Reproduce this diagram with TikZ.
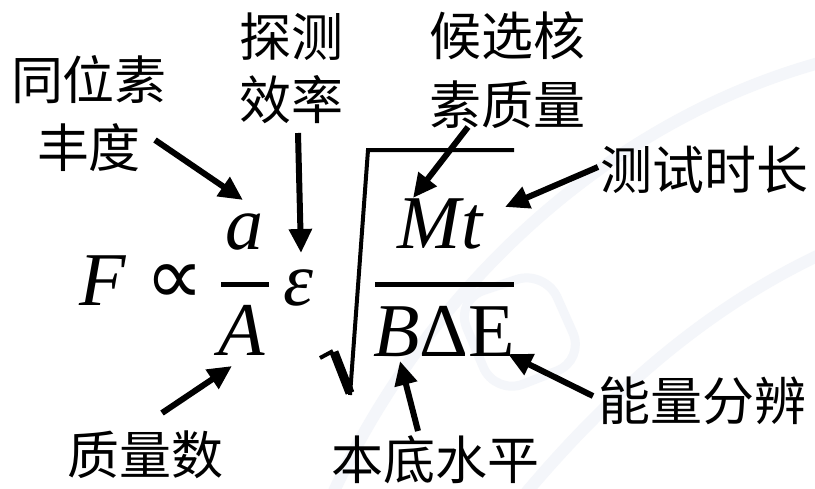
\documentclass[tikz,border=0pt]{standalone}
\usepackage{fontspec}
\newfontfamily\cjk{Noto Sans CJK SC}
\newfontfamily\mf{Liberation Serif}
\newfontfamily\dv{DejaVu Sans}
\usetikzlibrary{arrows.meta}
\definecolor{wm}{RGB}{244,246,250}
\begin{document}
\begin{tikzpicture}[x=1pt,y=-1pt,
  lbl/.style={font=\cjk\fontsize{52}{60}\selectfont, inner sep=0pt, anchor=base},
  sym/.style={font=\mf\itshape\fontsize{76}{80}\selectfont, inner sep=0pt, anchor=base},
  arr/.style={line width=6pt, -{Triangle[length=24pt,width=22pt]}},
  bar/.style={line width=5pt},
  wmline/.style={line width=12pt, wm, line cap=round}]
\useasboundingbox (0,0) rectangle (815,488);
\fill[white] (0,0) rectangle (815,488);
% faint watermark
\draw[wmline] (330,500) .. controls (420,300) and (600,120) .. (830,60);
\draw[wmline] (520,500) .. controls (620,380) and (720,300) .. (830,250);
\draw[wm, line width=9pt, rounded corners=30pt] (455,300) -- (545,270) -- (585,360) -- (495,395) -- cycle;
% labels
\node[lbl] (iso1) at (89,99) {同位素};
\node[lbl] (iso2) at (89,167) {丰度};
\node[lbl] (det1) at (291,56) {探测};
\node[lbl] (det2) at (291,119) {效率};
\node[lbl] (nuc1) at (507,55) {候选核};
\node[lbl] (nuc2) at (507,124) {素质量};
\node[lbl] (time) at (704,189) {测试时长};
\node[lbl] (eres) at (702,420) {能量分辨};
\node[lbl] (mass) at (145,474) {质量数};
\node[lbl] (bkg) at (435,479) {本底水平};
% formula
\node[sym] (F) at (103,305) {F};
\node[inner sep=0pt, font=\dv\fontsize{82}{84}\selectfont] (prop) at (175,285) {∝};
\node[sym] (a) at (244,249) {a};
\node[sym] (A) at (242,355) {A};
\node[sym] (eps) at (298,305) {ε};
\node[sym] (Mt) at (440,248) {Mt};
\node[sym] (BdE) at (444,356) {B{\upshape ΔE}};
\draw[bar] (221,284.5) -- (269,284.5);
\draw[bar] (375,284.5) -- (514,284.5);
\draw[line width=4pt, line join=miter] (320,358) -- (333,351);
\draw[line width=9pt] (334,352) -- (350,393);
\draw[line width=4pt, line join=miter] (350,395) -- (368,150) -- (514,150);
% connectors
\coordinate (t1) at (155,140); \coordinate (h1) at (243,200);
\coordinate (t2) at (298,133); \coordinate (h2) at (301,253);
\coordinate (t3) at (468,127); \coordinate (h3) at (413,198);
\coordinate (t4) at (598,167); \coordinate (h4) at (505,207);
\coordinate (t5) at (593,396); \coordinate (h5) at (508,354);
\coordinate (t6) at (418,431); \coordinate (h6) at (400,361);
\coordinate (t7) at (162,413); \coordinate (h7) at (232,366);
\draw[arr] (t1) -- (h1);
\draw[arr] (t2) -- (h2);
\draw[arr] (t3) -- (h3);
\draw[arr] (t4) -- (h4);
\draw[arr] (t5) -- (h5);
\draw[arr] (t6) -- (h6);
\draw[arr] (t7) -- (h7);
\end{tikzpicture}
\end{document}
